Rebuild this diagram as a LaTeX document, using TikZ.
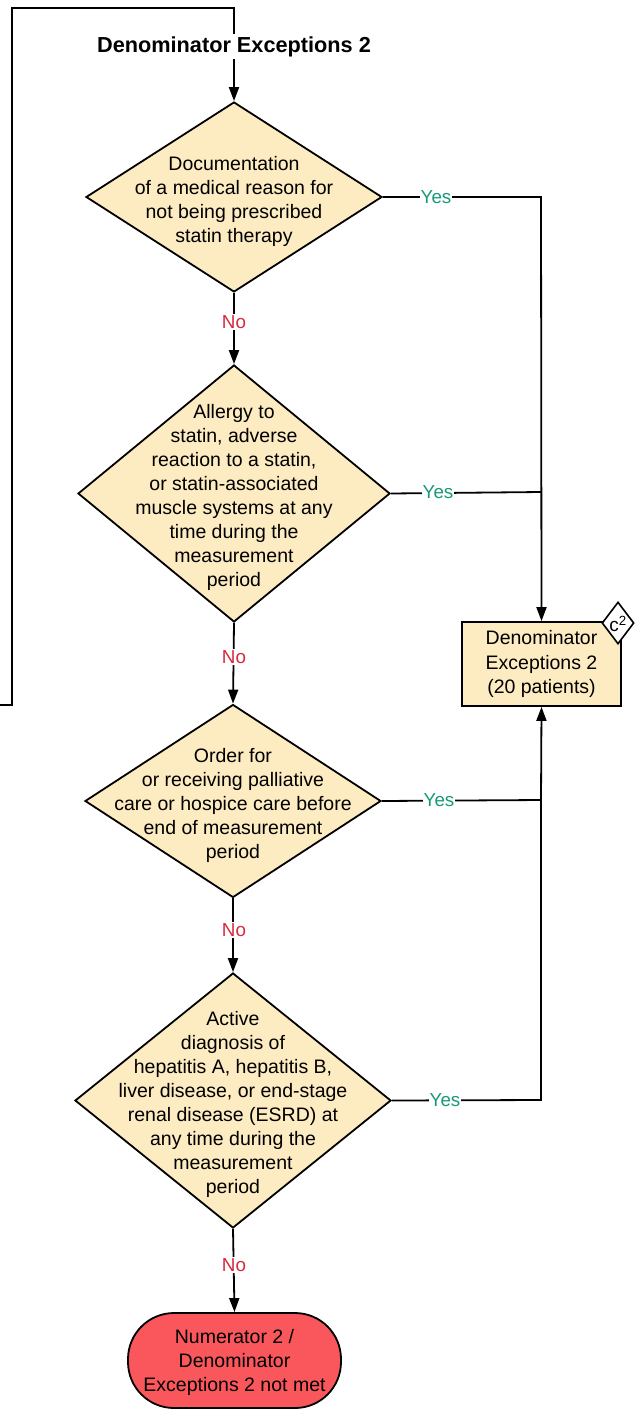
\documentclass[tikz,border=0pt]{standalone}
\usepackage{fontspec}
\setmainfont{Liberation Sans}
\usetikzlibrary{shapes.geometric,arrows.meta}
\definecolor{dfill}{HTML}{FDEBC1}
\definecolor{tfill}{HTML}{F9575C}
\definecolor{yesc}{HTML}{17997A}
\definecolor{noc}{HTML}{D42A3C}
\begin{document}
\begin{tikzpicture}[x=1pt,y=-1pt,
  decshape/.style={diamond, draw, line width=1.8pt, fill=dfill, inner sep=0pt},
  txt/.style={align=center, font=\fontsize{19.5}{24}\selectfont, inner sep=0pt, yshift=-4pt},
  boxnode/.style={rectangle, draw, line width=1.8pt, fill=dfill, align=center,
    font=\fontsize{19.5}{24.5}\selectfont, inner sep=0pt},
  termnode/.style={rectangle, rounded corners=46pt, draw, line width=1.8pt, fill=tfill, align=center,
    font=\fontsize{19.5}{24}\selectfont, inner sep=0pt},
  yeslbl/.style={fill=white, text=yesc, font=\fontsize{18.8}{22}\selectfont, inner sep=1pt},
  nolbl/.style={fill=white, text=noc, font=\fontsize{18.8}{22}\selectfont, inner sep=1pt},
  conn/.style={line width=1.8pt},
  arr/.style={line width=1.8pt, -{Triangle[length=14pt,width=10pt]}},
]
\useasboundingbox (0,0) rectangle (638,1410);

% diamonds
\node[decshape, minimum width=296, minimum height=190] (d1) at (234,197) {};
\node[txt] (t1) at (d1.center) {Documentation\\of a medical reason for\\not being prescribed\\statin therapy};
\node[decshape, minimum width=312, minimum height=257] (d2) at (234,493.5) {};
\node[txt] (t2) at (d2.center) {Allergy to\\statin, adverse\\reaction to a statin,\\or statin-associated\\muscle systems at any\\time during the\\measurement\\period};
\node[decshape, minimum width=296, minimum height=193] (d3) at (233,801) {};
\node[txt] (t3) at (d3.center) {Order for\\or receiving palliative\\care or hospice care before\\end of measurement\\period};
\node[decshape, minimum width=316, minimum height=255] (d4) at (233,1100.5) {};
\node[txt] (t4) at (d4.center) {Active\\diagnosis of\\hepatitis A, hepatitis B,\\liver disease, or end-stage\\renal disease (ESRD) at\\any time during the\\measurement\\period};

% terminal
\node[termnode, minimum width=213, minimum height=95] (term) at (234.5,1360.5) {};
\node[txt, yshift=2pt] (termt) at (term.center) {Numerator 2 /\\Denominator\\Exceptions 2 not met};

% box
\node[boxnode, minimum width=159, minimum height=84] (box) at (541.5,664) {Denominator\\Exceptions 2\\(20 patients)};
\node[diamond, draw, line width=1.6pt, fill=white, minimum width=32, minimum height=42, inner sep=0pt] (c2) at (618,623) {};
\node[font=\fontsize{19}{22}\selectfont, inner sep=0pt] (c2t) at (618,624) {c\textsuperscript{2}};

% coordinates
\coordinate (s0) at (0,705);
\coordinate (s1) at (12,705);
\coordinate (s2) at (12,8);
\coordinate (s3) at (234,8);
\coordinate (j1) at (541,197);
\coordinate (j2) at (541,492);
\coordinate (j3) at (541,800);
\coordinate (j4) at (541,1100);

% loop into the top
\draw[arr] (s0) -- (s1) -- (s2) -- (s3) -- (d1.north);
\node[fill=white, font=\bfseries\fontsize{21.7}{26}\selectfont, inner sep=2pt] (title) at (234,46.5) {Denominator Exceptions 2};

% yes branches
\draw[arr] (d1.east) -- (j1) -- (box.north);
\draw[conn] (d2.east) -- (j2);
\draw[arr] (d3.east) -- (j3) -- (box.south);
\draw[conn] (d4.east) -- (j4) -- (j3);
\node[yeslbl] (y1) at (436,197) {Yes};
\node[yeslbl] (y2) at (438,492) {Yes};
\node[yeslbl] (y3) at (439,800) {Yes};
\node[yeslbl] (y4) at (445,1100) {Yes};

% no branches
\draw[arr] (d1.south) -- (d2.north);
\draw[arr] (d2.south) -- (d3.north);
\draw[arr] (d3.south) -- (d4.north);
\draw[arr] (d4.south) -- (term.north);
\node[nolbl] (n1) at (234,322) {No};
\node[nolbl] (n2) at (234,657) {No};
\node[nolbl] (n3) at (234,930) {No};
\node[nolbl] (n4) at (234,1265) {No};
\end{tikzpicture}
\end{document}
